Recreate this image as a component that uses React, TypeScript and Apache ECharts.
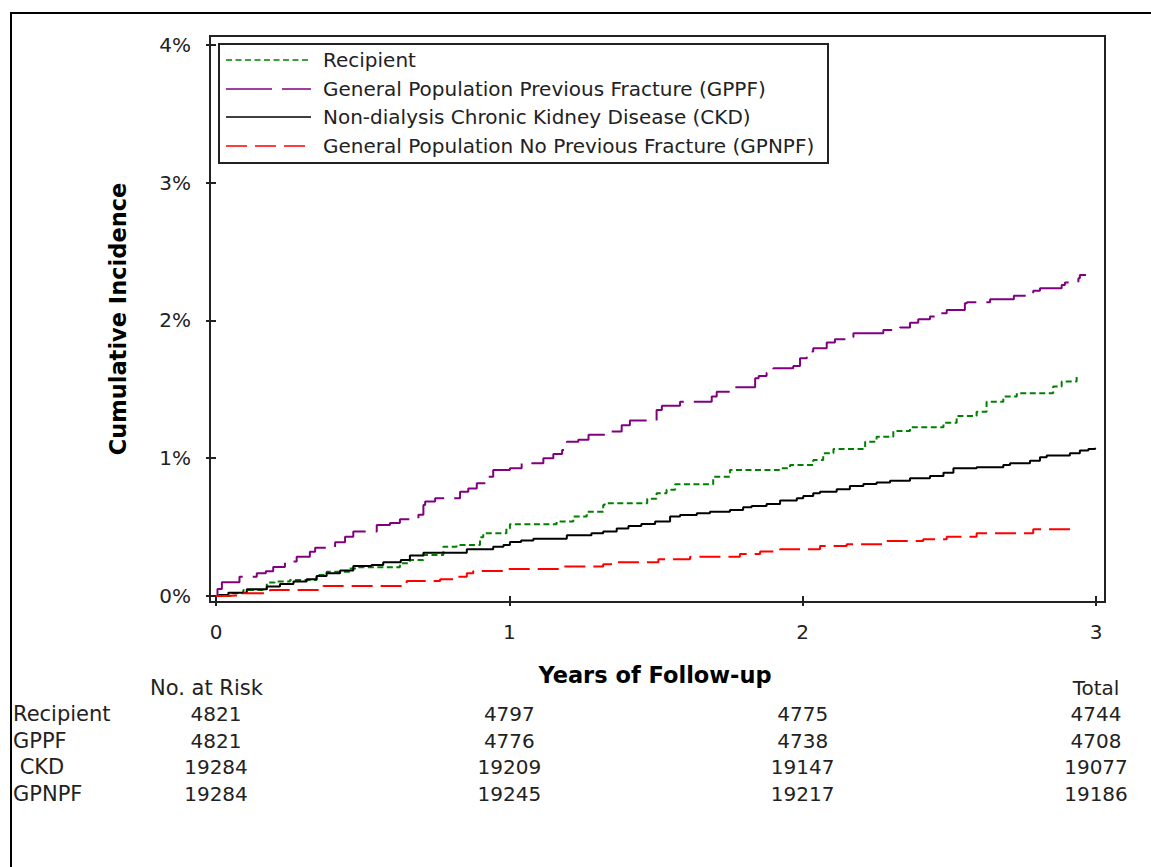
import React, { useEffect, useRef } from "react";
import * as echarts from "echarts";

const FONT = "'DejaVu Sans', sans-serif";
const INK = "#222";

// Cumulative incidence (%) step curves: [years, percent]
const recipient: [number, number][] = [
  [0, 0], [0.058, 0.02], [0.093, 0.044], [0.173, 0.097], [0.2, 0.104], [0.252, 0.116],
  [0.343, 0.152], [0.377, 0.176], [0.457, 0.2], [0.48, 0.208], [0.627, 0.237], [0.661, 0.261],
  [0.707, 0.298], [0.775, 0.358], [0.82, 0.37], [0.9, 0.426], [0.911, 0.455], [0.99, 0.49],
  [1.002, 0.52], [1.161, 0.54], [1.218, 0.576], [1.264, 0.612], [1.32, 0.66], [1.325, 0.673],
  [1.47, 0.705], [1.502, 0.746], [1.536, 0.77], [1.565, 0.81], [1.695, 0.866], [1.752, 0.915],
  [1.92, 0.927], [1.957, 0.951], [2.036, 0.987], [2.07, 1.036], [2.105, 1.067], [2.213, 1.12],
  [2.252, 1.156], [2.309, 1.198], [2.366, 1.225], [2.48, 1.258], [2.525, 1.307], [2.593, 1.338],
  [2.627, 1.41], [2.684, 1.447], [2.73, 1.472], [2.854, 1.52], [2.883, 1.556], [2.934, 1.592],
  [2.937, 1.592],
];

const gppf: [number, number][] = [
  [0, 0], [0.005, 0.05], [0.02, 0.1], [0.08, 0.14], [0.139, 0.165], [0.17, 0.18], [0.195, 0.21],
  [0.235, 0.25], [0.275, 0.285], [0.32, 0.32], [0.338, 0.35], [0.406, 0.39], [0.44, 0.43],
  [0.468, 0.467], [0.548, 0.515], [0.593, 0.53], [0.627, 0.557], [0.69, 0.59], [0.707, 0.66],
  [0.713, 0.685], [0.747, 0.71], [0.832, 0.757], [0.86, 0.78], [0.889, 0.818], [0.926, 0.866],
  [0.945, 0.915], [1.002, 0.927], [1.042, 0.963], [1.116, 1.0], [1.15, 1.03], [1.18, 1.06],
  [1.196, 1.12], [1.235, 1.133], [1.27, 1.17], [1.332, 1.193], [1.383, 1.24], [1.411, 1.273],
  [1.502, 1.35], [1.52, 1.38], [1.582, 1.41], [1.69, 1.447], [1.707, 1.483], [1.758, 1.515],
  [1.838, 1.58], [1.85, 1.597], [1.877, 1.62], [1.9, 1.653], [1.968, 1.67], [1.991, 1.726],
  [2.014, 1.774], [2.036, 1.798], [2.082, 1.84], [2.11, 1.863], [2.15, 1.878], [2.173, 1.907],
  [2.275, 1.93], [2.332, 1.948], [2.366, 1.984], [2.394, 2.009], [2.434, 2.028], [2.468, 2.052],
  [2.491, 2.076], [2.553, 2.125], [2.56, 2.132], [2.639, 2.154], [2.72, 2.18], [2.764, 2.197],
  [2.786, 2.216], [2.809, 2.234], [2.883, 2.258], [2.894, 2.275], [2.94, 2.306], [2.945, 2.33],
  [2.966, 2.33],
];

const ckd: [number, number][] = [
  [0, 0], [0.01, 0.007], [0.042, 0.024], [0.105, 0.048], [0.173, 0.068], [0.218, 0.087],
  [0.264, 0.104], [0.309, 0.121], [0.343, 0.145], [0.377, 0.165], [0.423, 0.184], [0.468, 0.218],
  [0.53, 0.225], [0.57, 0.245], [0.63, 0.261], [0.661, 0.293], [0.707, 0.314], [0.855, 0.339],
  [0.945, 0.358], [0.98, 0.37], [1.002, 0.392], [1.04, 0.402], [1.082, 0.416], [1.196, 0.44],
  [1.28, 0.455], [1.32, 0.467], [1.366, 0.49], [1.406, 0.508], [1.45, 0.523], [1.497, 0.54],
  [1.548, 0.576], [1.582, 0.588], [1.639, 0.6], [1.684, 0.612], [1.752, 0.624], [1.797, 0.644],
  [1.826, 0.653], [1.877, 0.668], [1.923, 0.692], [1.98, 0.709], [2.002, 0.726], [2.036, 0.746],
  [2.059, 0.757], [2.116, 0.775], [2.161, 0.799], [2.207, 0.813], [2.252, 0.823], [2.298, 0.837],
  [2.366, 0.854], [2.434, 0.871], [2.48, 0.895], [2.514, 0.927], [2.593, 0.934], [2.684, 0.951],
  [2.707, 0.963], [2.775, 0.982], [2.809, 1.007], [2.832, 1.019], [2.911, 1.036], [2.945, 1.055],
  [2.974, 1.067], [2.997, 1.075],
];

const gpnpf: [number, number][] = [
  [0, 0], [0.02, 0.005], [0.093, 0.02], [0.184, 0.044], [0.366, 0.073], [0.65, 0.109],
  [0.764, 0.121], [0.82, 0.14], [0.855, 0.165], [0.877, 0.181], [0.991, 0.196], [1.184, 0.213],
  [1.32, 0.23], [1.366, 0.245], [1.508, 0.266], [1.616, 0.285], [1.786, 0.305], [1.855, 0.322],
  [1.923, 0.339], [2.059, 0.363], [2.15, 0.375], [2.275, 0.399], [2.411, 0.411], [2.491, 0.43],
  [2.593, 0.455], [2.786, 0.484], [2.92, 0.503], [2.925, 0.503],
];

const seriesNames = [
  "Recipient",
  "General Population Previous Fracture (GPPF)",
  "Non-dialysis Chronic Kidney Disease (CKD)",
  "General Population No Previous Fracture (GPNPF)",
];
const seriesColors = ["#008000", "#800080", "#000000", "#ff0000"];
const seriesDash: (number[] | "solid")[] = [[6, 3.5], [46, 10], "solid", [21, 8]];
const seriesData = [recipient, gppf, ckd, gpnpf];

// Number at risk table
const xTicks = [0, 1, 2, 3];
const yTicks = [0, 1, 2, 3, 4];
const riskRowLabels = ["Recipient", "GPPF", " CKD", "GPNPF"];
const riskRecipient = [4821, 4797, 4775, 4744];
const riskGppf = [4821, 4776, 4738, 4708];
const riskCkd = [19284, 19209, 19147, 19077];
const riskGpnpf = [19284, 19245, 19217, 19186];
const riskRows = [riskRecipient, riskGppf, riskCkd, riskGpnpf];

export default function App() {
  const ref = useRef<HTMLDivElement>(null);

  useEffect(() => {
    const chart = echarts.init(ref.current!, null, { renderer: "svg" });

    chart.setOption({
      animation: false,
      backgroundColor: "#fff",
      textStyle: { fontFamily: FONT },
      grid: {
        left: 210,
        top: 36,
        width: 895,
        height: 566,
        show: true,
        borderColor: INK,
        borderWidth: 2,
        backgroundColor: "transparent",
      },
      xAxis: {
        type: "value",
        min: -0.0205,
        max: 3.0307,
        axisLine: { show: false },
        splitLine: { show: false },
        axisTick: {
          show: true,
          length: 10,
          customValues: xTicks,
          lineStyle: { color: INK, width: 2 },
        },
        axisLabel: {
          customValues: xTicks,
          margin: 20,
          fontSize: 20,
          color: INK,
          fontFamily: FONT,
        },
      },
      yAxis: {
        type: "value",
        min: -0.044,
        max: 4.065,
        axisLine: { show: false },
        splitLine: { show: false },
        axisTick: {
          show: true,
          length: 10,
          customValues: yTicks,
          lineStyle: { color: INK, width: 2 },
        },
        axisLabel: {
          customValues: yTicks,
          margin: 19,
          fontSize: 20,
          color: INK,
          fontFamily: FONT,
          formatter: (v: number) => `${v}%`,
        },
      },
      series: seriesData.map((d, i) => ({
        type: "line",
        name: seriesNames[i],
        data: d,
        step: "end",
        showSymbol: false,
        symbol: "none",
        color: seriesColors[i],
        lineStyle: { color: seriesColors[i], width: 2, type: seriesDash[i] },
      })),
    });

    const px = (t: number) => chart.convertToPixel({ xAxisIndex: 0 }, t) as number;

    const graphics: any[] = [];

    // outer frame
    graphics.push({
      type: "rect",
      shape: { x: 11, y: 13, width: 1300, height: 1000 },
      style: { fill: "none", stroke: "#000", lineWidth: 2 },
      silent: true,
    });

    // legend box
    const legendTop = 44;
    graphics.push({
      type: "rect",
      shape: { x: 219, y: legendTop, width: 609, height: 119 },
      style: { fill: "#fff", stroke: INK, lineWidth: 2 },
      z: 10,
    });
    const rowY = [60, 89, 117, 146];
    seriesNames.forEach((name, i) => {
      const dash = seriesDash[i];
      graphics.push({
        type: "line",
        shape: { x1: 226, y1: rowY[i], x2: 311, y2: rowY[i] },
        style: {
          stroke: seriesColors[i],
          lineWidth: 1.6,
          lineDash: dash === "solid" ? null : dash,
        },
        z: 11,
      });
      graphics.push({
        type: "text",
        x: 323,
        y: rowY[i],
        style: {
          text: name,
          fontSize: 20,
          fontFamily: FONT,
          fill: INK,
          align: "left",
          verticalAlign: "middle",
        },
        z: 11,
      });
    });

    // axis titles
    graphics.push({
      type: "text",
      x: 655,
      y: 675,
      style: {
        text: "Years of Follow-up",
        fontSize: 22.5,
        fontWeight: "bold",
        fontFamily: FONT,
        fill: "#000",
        align: "center",
        verticalAlign: "middle",
      },
    });
    graphics.push({
      type: "text",
      x: 118,
      y: 319,
      rotation: Math.PI / 2,
      style: {
        text: "Cumulative Incidence",
        fontSize: 22.5,
        fontWeight: "bold",
        fontFamily: FONT,
        fill: "#000",
        align: "center",
        verticalAlign: "middle",
      },
    });

    // number at risk table
    const headerY = 688;
    const rowYs = [714, 741, 767, 793.5];
    graphics.push({
      type: "text",
      x: 150,
      y: headerY,
      style: { text: "No. at Risk", fontSize: 21, fontFamily: FONT, fill: INK, align: "left", verticalAlign: "middle" },
    });
    graphics.push({
      type: "text",
      x: px(xTicks[3]),
      y: headerY,
      style: { text: "Total", fontSize: 20, fontFamily: FONT, fill: INK, align: "center", verticalAlign: "middle" },
    });
    riskRows.forEach((row, r) => {
      graphics.push({
        type: "text",
        x: 13,
        y: rowYs[r],
        style: { text: riskRowLabels[r], fontSize: 21, fontFamily: FONT, fill: INK, align: "left", verticalAlign: "middle" },
      });
      row.forEach((n, c) => {
        graphics.push({
          type: "text",
          x: px(xTicks[c]),
          y: rowYs[r],
          style: { text: String(n), fontSize: 20, fontFamily: FONT, fill: INK, align: "center", verticalAlign: "middle" },
        });
      });
    });

    chart.setOption({ graphic: graphics });

    return () => chart.dispose();
  }, []);

  return (
    <div
      ref={ref}
      style={{ position: "fixed", left: 0, top: 0, width: 1151, height: 867, background: "#fff" }}
    />
  );
}
